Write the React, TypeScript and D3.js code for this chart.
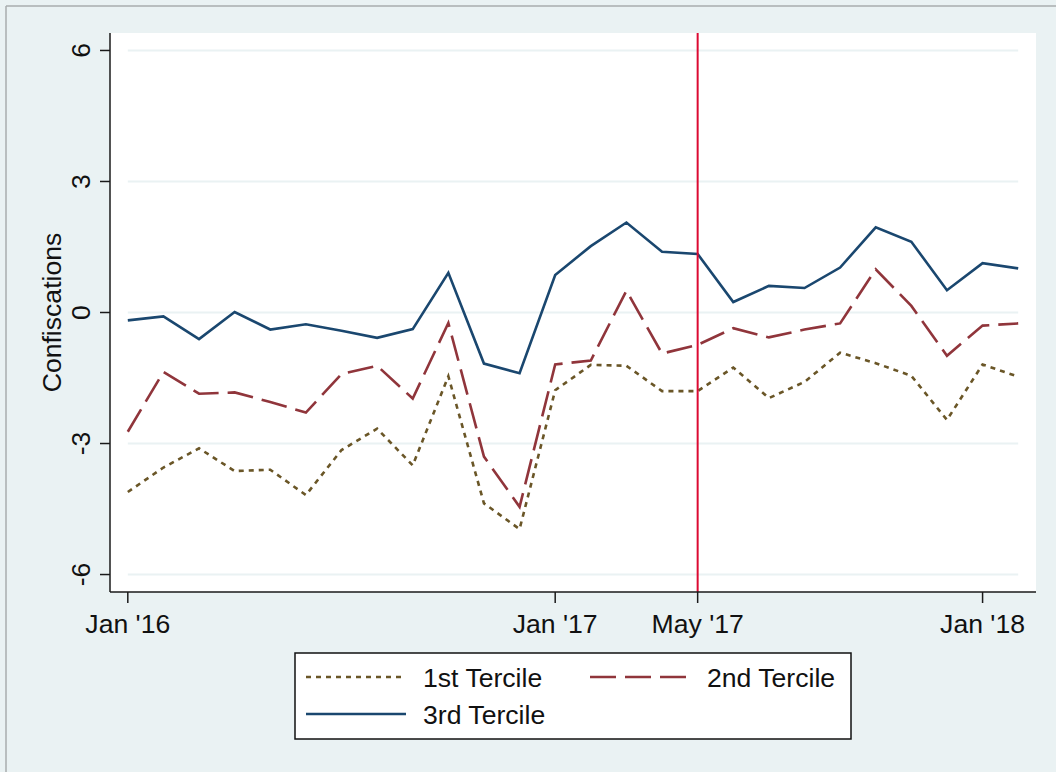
import React from "react";
import * as d3 from "d3";

// Monthly observations, Jan 2016 – Feb 2018
const months: string[] = [
  "2016-01", "2016-02", "2016-03", "2016-04", "2016-05", "2016-06", "2016-07", "2016-08", "2016-09", "2016-10", "2016-11", "2016-12",
  "2017-01", "2017-02", "2017-03", "2017-04", "2017-05", "2017-06", "2017-07", "2017-08", "2017-09", "2017-10", "2017-11", "2017-12",
  "2018-01", "2018-02",
];

const firstTercile: number[] = [
  -4.11, -3.55, -3.11, -3.63, -3.6, -4.18, -3.15, -2.66, -3.5, -1.46, -4.37, -4.96,
  -1.78, -1.2, -1.22, -1.8, -1.8, -1.26, -1.96, -1.59, -0.92, -1.16, -1.45, -2.46,
  -1.19, -1.47,
];
const secondTercile: number[] = [
  -2.73, -1.36, -1.86, -1.83, -2.05, -2.29, -1.41, -1.22, -1.97, -0.24, -3.3, -4.45,
  -1.19, -1.1, 0.5, -0.94, -0.74, -0.36, -0.57, -0.39, -0.25, 0.99, 0.15, -0.99,
  -0.3, -0.25,
];
const thirdTercile: number[] = [
  -0.18, -0.09, -0.61, 0.01, -0.39, -0.27, -0.42, -0.58, -0.38, 0.91, -1.17, -1.39,
  0.86, 1.52, 2.06, 1.39, 1.34, 0.24, 0.61, 0.56, 1.03, 1.95, 1.62, 0.51,
  1.13, 1.01,
];

const yTicks: number[] = [-6, -3, 0, 3, 6];
const xTickMonths: string[] = ["2016-01", "2017-01", "2017-05", "2018-01"];
const xTickLabels: string[] = ["Jan '16", "Jan '17", "May '17", "Jan '18"];
const markerMonth = "2017-05";

const seriesNames: string[] = ["1st Tercile", "2nd Tercile", "3rd Tercile"];

const W = 1056;
const H = 772;
const plot = { left: 110, right: 1036, top: 33, bottom: 592 };
const FONT = "'Liberation Sans', Arial, sans-serif";
const BG = "#eaf2f3";
const FS = 26.6;

const styles = [
  { color: "#6a5627", dash: "5,5" },
  { color: "#90353b", dash: "26,9" },
  { color: "#1a476f", dash: "none" },
];

export default function App() {
  const x = d3.scaleLinear().domain([-0.5, months.length - 0.5]).range([plot.left, plot.right]);
  const y = d3.scaleLinear().domain([-6.4, 6.4]).range([plot.bottom, plot.top]);
  const idx = (m: string) => months.indexOf(m);

  const line = d3
    .line<number>()
    .x((_, i) => x(i))
    .y((d) => y(d));

  const series = [firstTercile, secondTercile, thirdTercile];
  const gridX0 = x(0);
  const gridX1 = x(months.length - 1);

  const legendItems = [
    { name: seriesNames[0], s: styles[0], kx: 306, ty: 677 },
    { name: seriesNames[1], s: styles[1], kx: 590, ty: 677 },
    { name: seriesNames[2], s: styles[2], kx: 306, ty: 714 },
  ];

  return (
    <svg
      width={W}
      height={H}
      style={{ position: "absolute", left: 0, top: 0 }}
      fontFamily={FONT}
    >
      <rect x={0} y={0} width={W} height={H} fill={BG} />
      <line x1={6} y1={6} x2={W} y2={6} stroke="#a9adae" strokeWidth={1.5} />
      <line x1={6} y1={6} x2={6} y2={H} stroke="#a9adae" strokeWidth={1.5} />

      {/* plot region */}
      <rect x={plot.left} y={plot.top} width={plot.right - plot.left} height={plot.bottom - plot.top} fill="#ffffff" />

      {/* gridlines */}
      {yTicks.map((t) => (
        <line key={"g" + t} x1={gridX0} x2={gridX1} y1={y(t)} y2={y(t)} stroke={BG} strokeWidth={2} />
      ))}

      {/* series */}
      {series.map((vals, k) => (
        <path
          key={seriesNames[k]}
          d={line(vals) || ""}
          fill="none"
          stroke={styles[k].color}
          strokeWidth={2.6}
          strokeDasharray={styles[k].dash}
          strokeLinejoin="miter"
        />
      ))}

      {/* vertical reference line */}
      <line
        x1={x(idx(markerMonth))}
        x2={x(idx(markerMonth))}
        y1={plot.top}
        y2={plot.bottom}
        stroke="#dc0a32"
        strokeWidth={2}
      />

      {/* y axis */}
      <line x1={plot.left} x2={plot.left} y1={plot.top} y2={plot.bottom} stroke="#1a1a1a" strokeWidth={1.5} />
      {yTicks.map((t) => (
        <g key={"yt" + t}>
          <line x1={plot.left - 10} x2={plot.left} y1={y(t)} y2={y(t)} stroke="#1a1a1a" strokeWidth={1.5} />
          <text
            transform={`translate(90,${y(t)}) rotate(-90)`}
            textAnchor="middle"
            fontSize={FS}
            fill="#111"
          >
            {t}
          </text>
        </g>
      ))}
      <text transform={`translate(61,${(plot.top + plot.bottom) / 2}) rotate(-90)`} textAnchor="middle" fontSize={FS} fill="#111">
        Confiscations
      </text>

      {/* x axis */}
      <line x1={plot.left} x2={plot.right} y1={plot.bottom} y2={plot.bottom} stroke="#1a1a1a" strokeWidth={1.5} />
      {xTickMonths.map((m, i) => (
        <g key={"xt" + m}>
          <line x1={x(idx(m))} x2={x(idx(m))} y1={plot.bottom} y2={plot.bottom + 11} stroke="#1a1a1a" strokeWidth={1.5} />
          <text x={x(idx(m))} y={633} textAnchor="middle" fontSize={FS} fill="#111">
            {xTickLabels[i]}
          </text>
        </g>
      ))}

      {/* legend */}
      <rect x={295} y={653} width={556} height={86} fill="#ffffff" stroke="#111" strokeWidth={1.5} />
      {legendItems.map((it) => (
        <g key={"lg" + it.name}>
          <line
            x1={it.kx}
            x2={it.kx + 100}
            y1={it.ty}
            y2={it.ty}
            stroke={it.s.color}
            strokeWidth={2.6}
            strokeDasharray={it.s.dash}
          />
          <text x={it.kx + 117} y={it.ty + 9.5} fontSize={FS} fill="#111">
            {it.name}
          </text>
        </g>
      ))}
    </svg>
  );
}
